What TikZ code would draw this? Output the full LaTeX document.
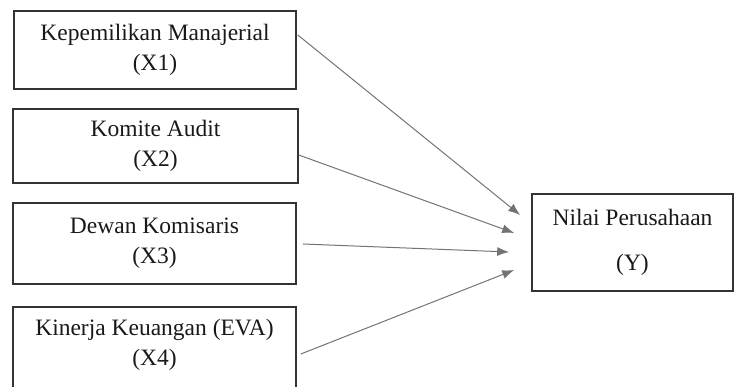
\documentclass[tikz,border=0pt]{standalone}
\usepackage{fontspec}
\setmainfont{Liberation Serif}
\usetikzlibrary{arrows.meta}

\begin{document}
\begin{tikzpicture}[x=1pt,y=1pt,
            every node/.style={font=\fontsize{23.5}{30}\selectfont,text=black!90},
            varbox/.style={draw=black!80,line width=1.6pt,rectangle,align=center,inner sep=0pt},
            arrow/.style={draw=black!55,line width=1pt,-{Latex[length=12pt,width=9pt]}}
          ]
          \useasboundingbox (0,0) rectangle (734,386);

          \node[varbox,minimum width=282pt,minimum height=78pt] (x1) at (155,336) {Kepemilikan Manajerial\\(X1)};
          \node[varbox,minimum width=285pt,minimum height=74pt] (x2) at (155.5,240) {Komite Audit\\(X2)};
          \node[varbox,minimum width=283pt,minimum height=81pt] (x3) at (154.5,142.5) {Dewan Komisaris\\(X3)};
          \node[varbox,minimum width=283pt,minimum height=84pt,text depth=14pt] (x4) at (154.5,37) {Kinerja Keuangan (EVA)\\(X4)};
          \node[varbox,minimum width=201pt,minimum height=97pt] (y) at (632.5,143.5) {Nilai Perusahaan\\[15pt](Y)};

          \coordinate (t1) at ([shift={(-11,27.5)}]y.west);
          \coordinate (t2) at ([shift={(-17,9.5)}]y.west);
          \coordinate (t3) at ([shift={(-22,-9.5)}]y.west);
          \coordinate (t4) at ([shift={(-17,-27.5)}]y.west);

          \draw[arrow] ([shift={(1,15)}]x1.east) -- (t1);
          \draw[arrow] ([shift={(0,-9)}]x2.east) -- (t2);
          \draw[arrow] ([shift={(6,-0.5)}]x3.east) -- (t3);
          \draw[arrow] ([shift={(4,-5)}]x4.east) -- (t4);
          \end{tikzpicture}
\end{document}
